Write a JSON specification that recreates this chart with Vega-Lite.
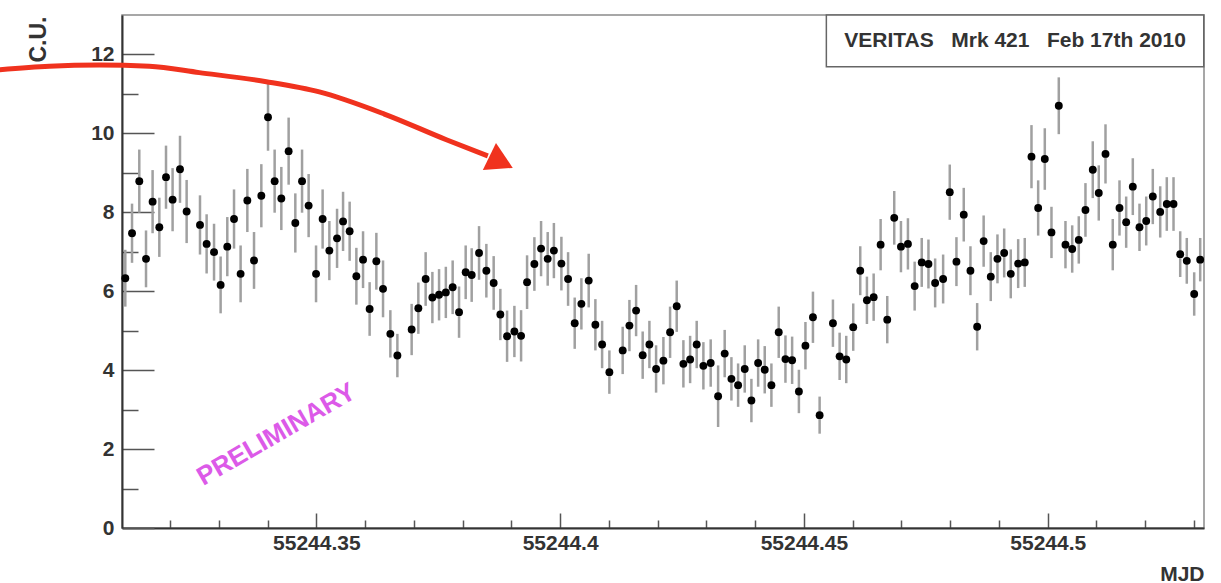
{
  "$schema": "https://vega.github.io/schema/vega-lite/v6.json",
  "width": 1082,
  "height": 513,
  "autosize": "none",
  "padding": {"left": 122, "top": 15, "right": 17, "bottom": 55},
  "background": "white",
  "config": {
    "view": {"stroke": "#8a8a8a", "strokeWidth": 1.5},
    "font": "Liberation Sans"
  },
  "datasets": {
    "pts": [
      {"t":55244.31082,"v":6.33,"e":0.72},{"t":55244.31220,"v":7.47,"e":0.75},{"t":55244.31369,"v":8.79,"e":0.8},{"t":55244.31507,"v":6.82,"e":0.72},
      {"t":55244.31642,"v":8.27,"e":0.8},{"t":55244.31780,"v":7.62,"e":0.75},{"t":55244.31917,"v":8.89,"e":0.8},{"t":55244.32052,"v":8.32,"e":0.8},
      {"t":55244.32204,"v":9.09,"e":0.85},{"t":55244.32340,"v":8.02,"e":0.8},{"t":55244.32614,"v":7.68,"e":0.75},{"t":55244.32750,"v":7.20,"e":0.75},
      {"t":55244.32902,"v":6.99,"e":0.72},{"t":55244.33037,"v":6.16,"e":0.72},{"t":55244.33174,"v":7.13,"e":0.75},{"t":55244.33312,"v":7.83,"e":0.75},
      {"t":55244.33447,"v":6.44,"e":0.72},{"t":55244.33585,"v":8.30,"e":0.8},{"t":55244.33722,"v":6.78,"e":0.72},{"t":55244.33872,"v":8.42,"e":0.8},
      {"t":55244.34009,"v":10.41,"e":0.85},{"t":55244.34145,"v":8.79,"e":0.8},{"t":55244.34282,"v":8.35,"e":0.8},{"t":55244.34432,"v":9.55,"e":0.85},
      {"t":55244.34569,"v":7.73,"e":0.75},{"t":55244.34707,"v":8.79,"e":0.8},{"t":55244.34842,"v":8.17,"e":0.8},{"t":55244.34994,"v":6.44,"e":0.72},
      {"t":55244.35129,"v":7.83,"e":0.75},{"t":55244.35267,"v":7.03,"e":0.75},{"t":55244.35425,"v":7.34,"e":0.75},{"t":55244.35548,"v":7.77,"e":0.75},
      {"t":55244.35683,"v":7.52,"e":0.75},{"t":55244.35821,"v":6.38,"e":0.72},{"t":55244.35958,"v":6.80,"e":0.72},{"t":55244.36093,"v":5.55,"e":0.68},
      {"t":55244.36231,"v":6.76,"e":0.72},{"t":55244.36368,"v":6.06,"e":0.72},{"t":55244.36518,"v":4.92,"e":0.6},{"t":55244.36662,"v":4.37,"e":0.55},
      {"t":55244.36955,"v":5.03,"e":0.65},{"t":55244.37092,"v":5.57,"e":0.65},{"t":55244.37242,"v":6.31,"e":0.68},{"t":55244.37380,"v":5.84,"e":0.65},
      {"t":55244.37517,"v":5.91,"e":0.65},{"t":55244.37656,"v":5.97,"e":0.65},{"t":55244.37796,"v":6.10,"e":0.68},{"t":55244.37927,"v":5.47,"e":0.65},
      {"t":55244.38063,"v":6.48,"e":0.68},{"t":55244.38186,"v":6.41,"e":0.68},{"t":55244.38337,"v":6.97,"e":0.68},{"t":55244.38487,"v":6.52,"e":0.68},
      {"t":55244.38637,"v":6.21,"e":0.68},{"t":55244.38774,"v":5.41,"e":0.65},{"t":55244.38912,"v":4.86,"e":0.65},{"t":55244.39062,"v":4.98,"e":0.65},
      {"t":55244.39199,"v":4.87,"e":0.65},{"t":55244.39322,"v":6.23,"e":0.68},{"t":55244.39472,"v":6.69,"e":0.68},{"t":55244.39609,"v":7.08,"e":0.7},
      {"t":55244.39745,"v":6.82,"e":0.68},{"t":55244.39872,"v":7.03,"e":0.7},{"t":55244.40026,"v":6.70,"e":0.68},{"t":55244.40163,"v":6.31,"e":0.68},
      {"t":55244.40299,"v":5.19,"e":0.65},{"t":55244.40436,"v":5.68,"e":0.65},{"t":55244.40586,"v":6.27,"e":0.68},{"t":55244.40723,"v":5.15,"e":0.65},
      {"t":55244.40861,"v":4.65,"e":0.6},{"t":55244.41010,"v":3.95,"e":0.55},{"t":55244.41283,"v":4.50,"e":0.6},{"t":55244.41421,"v":5.13,"e":0.65},
      {"t":55244.41558,"v":5.51,"e":0.65},{"t":55244.41693,"v":4.38,"e":0.6},{"t":55244.41831,"v":4.65,"e":0.6},{"t":55244.41968,"v":4.03,"e":0.6},
      {"t":55244.42118,"v":4.24,"e":0.6},{"t":55244.42255,"v":4.96,"e":0.65},{"t":55244.42391,"v":5.62,"e":0.65},{"t":55244.42528,"v":4.16,"e":0.6},
      {"t":55244.42666,"v":4.27,"e":0.6},{"t":55244.42801,"v":4.65,"e":0.6},{"t":55244.42938,"v":4.11,"e":0.6},{"t":55244.43088,"v":4.18,"e":0.6},
      {"t":55244.43240,"v":3.34,"e":0.78},{"t":55244.43375,"v":4.42,"e":0.6},{"t":55244.43513,"v":3.78,"e":0.55},{"t":55244.43650,"v":3.62,"e":0.55},
      {"t":55244.43786,"v":4.03,"e":0.6},{"t":55244.43923,"v":3.23,"e":0.55},{"t":55244.44061,"v":4.18,"e":0.6},{"t":55244.44196,"v":4.01,"e":0.6},
      {"t":55244.44333,"v":3.62,"e":0.55},{"t":55244.44483,"v":4.96,"e":0.65},{"t":55244.44621,"v":4.28,"e":0.6},{"t":55244.44758,"v":4.25,"e":0.6},
      {"t":55244.44897,"v":3.46,"e":0.55},{"t":55244.45031,"v":4.62,"e":0.6},{"t":55244.45185,"v":5.34,"e":0.65},{"t":55244.45322,"v":2.86,"e":0.47},
      {"t":55244.45595,"v":5.19,"e":0.6},{"t":55244.45732,"v":4.35,"e":0.6},{"t":55244.45868,"v":4.27,"e":0.6},{"t":55244.46011,"v":5.09,"e":0.6},
      {"t":55244.46155,"v":6.52,"e":0.62},{"t":55244.46292,"v":5.77,"e":0.6},{"t":55244.46430,"v":5.85,"e":0.6},{"t":55244.46573,"v":7.18,"e":0.65},
      {"t":55244.46709,"v":5.28,"e":0.6},{"t":55244.46852,"v":7.86,"e":0.68},{"t":55244.46990,"v":7.13,"e":0.65},{"t":55244.47133,"v":7.20,"e":0.65},
      {"t":55244.47271,"v":6.13,"e":0.62},{"t":55244.47416,"v":6.73,"e":0.62},{"t":55244.47554,"v":6.69,"e":0.62},{"t":55244.47691,"v":6.21,"e":0.62},
      {"t":55244.47855,"v":6.31,"e":0.62},{"t":55244.47991,"v":8.51,"e":0.7},{"t":55244.48128,"v":6.75,"e":0.62},{"t":55244.48278,"v":7.94,"e":0.68},
      {"t":55244.48415,"v":6.52,"e":0.62},{"t":55244.48553,"v":5.10,"e":0.6},{"t":55244.48686,"v":7.27,"e":0.65},{"t":55244.48832,"v":6.37,"e":0.62},
      {"t":55244.48969,"v":6.82,"e":0.62},{"t":55244.49107,"v":6.97,"e":0.62},{"t":55244.49242,"v":6.44,"e":0.62},{"t":55244.49394,"v":6.70,"e":0.62},
      {"t":55244.49529,"v":6.73,"e":0.62},{"t":55244.49667,"v":9.41,"e":0.8},{"t":55244.49804,"v":8.11,"e":0.7},{"t":55244.49940,"v":9.35,"e":0.78},
      {"t":55244.50077,"v":7.49,"e":0.65},{"t":55244.50227,"v":10.70,"e":0.72},{"t":55244.50364,"v":7.18,"e":0.6},{"t":55244.50502,"v":7.07,"e":0.6},
      {"t":55244.50637,"v":7.30,"e":0.6},{"t":55244.50774,"v":8.06,"e":0.68},{"t":55244.50924,"v":9.08,"e":0.72},{"t":55244.51047,"v":8.49,"e":0.7},
      {"t":55244.51185,"v":9.48,"e":0.75},{"t":55244.51334,"v":7.18,"e":0.65},{"t":55244.51472,"v":8.11,"e":0.7},{"t":55244.51609,"v":7.75,"e":0.65},
      {"t":55244.51745,"v":8.65,"e":0.72},{"t":55244.51882,"v":7.62,"e":0.6},{"t":55244.52020,"v":7.78,"e":0.62},{"t":55244.52155,"v":8.40,"e":0.7},
      {"t":55244.52307,"v":8.01,"e":0.65},{"t":55244.52442,"v":8.21,"e":0.68},{"t":55244.52580,"v":8.21,"e":0.68},{"t":55244.52717,"v":6.94,"e":0.58},
      {"t":55244.52852,"v":6.77,"e":0.58},{"t":55244.53004,"v":5.93,"e":0.55},{"t":55244.53127,"v":6.80,"e":0.55}
    ],
    "arrow": [
      {"t":55244.28497,"v":11.61},{"t":55244.29523,"v":11.70},{"t":55244.30549,"v":11.73},{"t":55244.31574,"v":11.70},
      {"t":55244.32600,"v":11.54},{"t":55244.33974,"v":11.31},{"t":55244.35062,"v":11.05},{"t":55244.36395,"v":10.49},
      {"t":55244.37667,"v":9.84},{"t":55244.38518,"v":9.43}
    ],
    "head": [{"t":55244.38789,"v":9.27}],
    "prelim": [{"t":55244.34179,"v":2.37,"label":"PRELIMINARY"}],
    "box": [{"t":55244.4546,"t2":55244.5320,"v":13.0,"v2":11.69}],
    "boxtext": [{"t":55244.4933,"v":12.34,"label":"VERITAS\u00a0\u00a0\u00a0Mrk 421\u00a0\u00a0\u00a0Feb 17th 2010"}]
  },
  "layer": [
    {
      "data": {"name": "pts"},
      "mark": {"type": "errorbar", "color": "#a0a0a0", "thickness": 2.5, "clip": false},
      "encoding": {
        "x": {
          "field": "t", "type": "quantitative",
          "scale": {"domain": [55244.310144, 55244.532051], "nice": false, "zero": false},
          "axis": {
            "title": "MJD",
            "values": [55244.32,55244.33,55244.34,55244.35,55244.36,55244.37,55244.38,55244.39,55244.40,55244.41,55244.42,55244.43,55244.44,55244.45,55244.46,55244.47,55244.48,55244.49,55244.50,55244.51,55244.52,55244.53],
            "labelExpr": "abs(datum.value*20 - round(datum.value*20)) < 0.000001 ? format(datum.value, '.2~f') : ''",
            "tickSize": {"condition": {"test": "abs(datum.value*20 - round(datum.value*20)) < 0.000001", "value": -15}, "value": -8},
            "tickColor": "#555555", "tickWidth": 1.5,
            "domainColor": "#333333", "domainWidth": 2,
            "grid": false,
            "labelFont": "Liberation Sans", "labelFontSize": 21, "labelFontWeight": "bold", "labelColor": "#333333",
            "labelPadding": 19, "labelFlush": false, "labelOverlap": false,
            "titleFont": "Liberation Sans", "titleFontSize": 21, "titleFontWeight": "bold", "titleColor": "#333333",
            "titleX": 1082, "titleY": 52, "titleAlign": "right", "titleAnchor": "end", "titleBaseline": "alphabetic"
          }
        },
        "y": {
          "field": "v", "type": "quantitative",
          "scale": {"domain": [0, 13], "nice": false, "zero": false},
          "axis": {
            "title": "C.U.",
            "values": [0,0.5,1,1.5,2,2.5,3,3.5,4,4.5,5,5.5,6,6.5,7,7.5,8,8.5,9,9.5,10,10.5,11,11.5,12,12.5],
            "labelExpr": "datum.value % 2 === 0 ? datum.label : ''",
            "tickSize": {"condition": {"test": "datum.value % 2 === 0", "value": -32}, "value": -16},
            "tickColor": "#555555", "tickWidth": 1.5,
            "domainColor": "#333333", "domainWidth": 2,
            "grid": false,
            "labelFont": "Liberation Sans", "labelFontSize": 21, "labelFontWeight": "bold", "labelColor": "#333333",
            "labelPadding": 40, "labelOverlap": false, "labelFlush": false,
            "titleFont": "Liberation Sans", "titleFontSize": 23, "titleFontWeight": "bold", "titleColor": "#333333",
            "titleX": -84, "titleY": 24, "titleAngle": 270, "titleAlign": "center", "titleBaseline": "middle"
          }
        },
        "yError": {"field": "e"}
      }
    },
    {
      "data": {"name": "pts"},
      "mark": {"type": "point", "filled": true, "shape": "circle", "size": 62, "color": "#000000", "opacity": 1, "clip": false},
      "encoding": {
        "x": {"field": "t", "type": "quantitative"},
        "y": {"field": "v", "type": "quantitative"}
      }
    },
    {
      "data": {"name": "arrow"},
      "mark": {"type": "line", "color": "#f0321e", "strokeWidth": 5, "interpolate": "monotone", "clip": false},
      "encoding": {
        "x": {"field": "t", "type": "quantitative"},
        "y": {"field": "v", "type": "quantitative"}
      }
    },
    {
      "data": {"name": "head"},
      "mark": {"type": "point", "shape": "triangle-right", "filled": true, "size": 900, "angle": 26, "color": "#f0321e", "opacity": 1, "clip": false},
      "encoding": {
        "x": {"field": "t", "type": "quantitative"},
        "y": {"field": "v", "type": "quantitative"}
      }
    },
    {
      "data": {"name": "prelim"},
      "mark": {"type": "text", "angle": 330, "font": "Liberation Sans", "fontSize": 26, "fontWeight": "bold", "color": "#dc5ae8", "align": "center", "baseline": "middle", "clip": false},
      "encoding": {
        "x": {"field": "t", "type": "quantitative"},
        "y": {"field": "v", "type": "quantitative"},
        "text": {"field": "label"}
      }
    },
    {
      "data": {"name": "box"},
      "mark": {"type": "rect", "fill": "white", "stroke": "#666666", "strokeWidth": 1.5, "clip": false},
      "encoding": {
        "x": {"field": "t", "type": "quantitative"},
        "x2": {"field": "t2"},
        "y": {"field": "v", "type": "quantitative"},
        "y2": {"field": "v2"}
      }
    },
    {
      "data": {"name": "boxtext"},
      "mark": {"type": "text", "font": "Liberation Sans", "fontSize": 21, "fontWeight": "bold", "color": "#333333", "align": "center", "baseline": "middle", "clip": false},
      "encoding": {
        "x": {"field": "t", "type": "quantitative"},
        "y": {"field": "v", "type": "quantitative"},
        "text": {"field": "label"}
      }
    }
  ]
}
